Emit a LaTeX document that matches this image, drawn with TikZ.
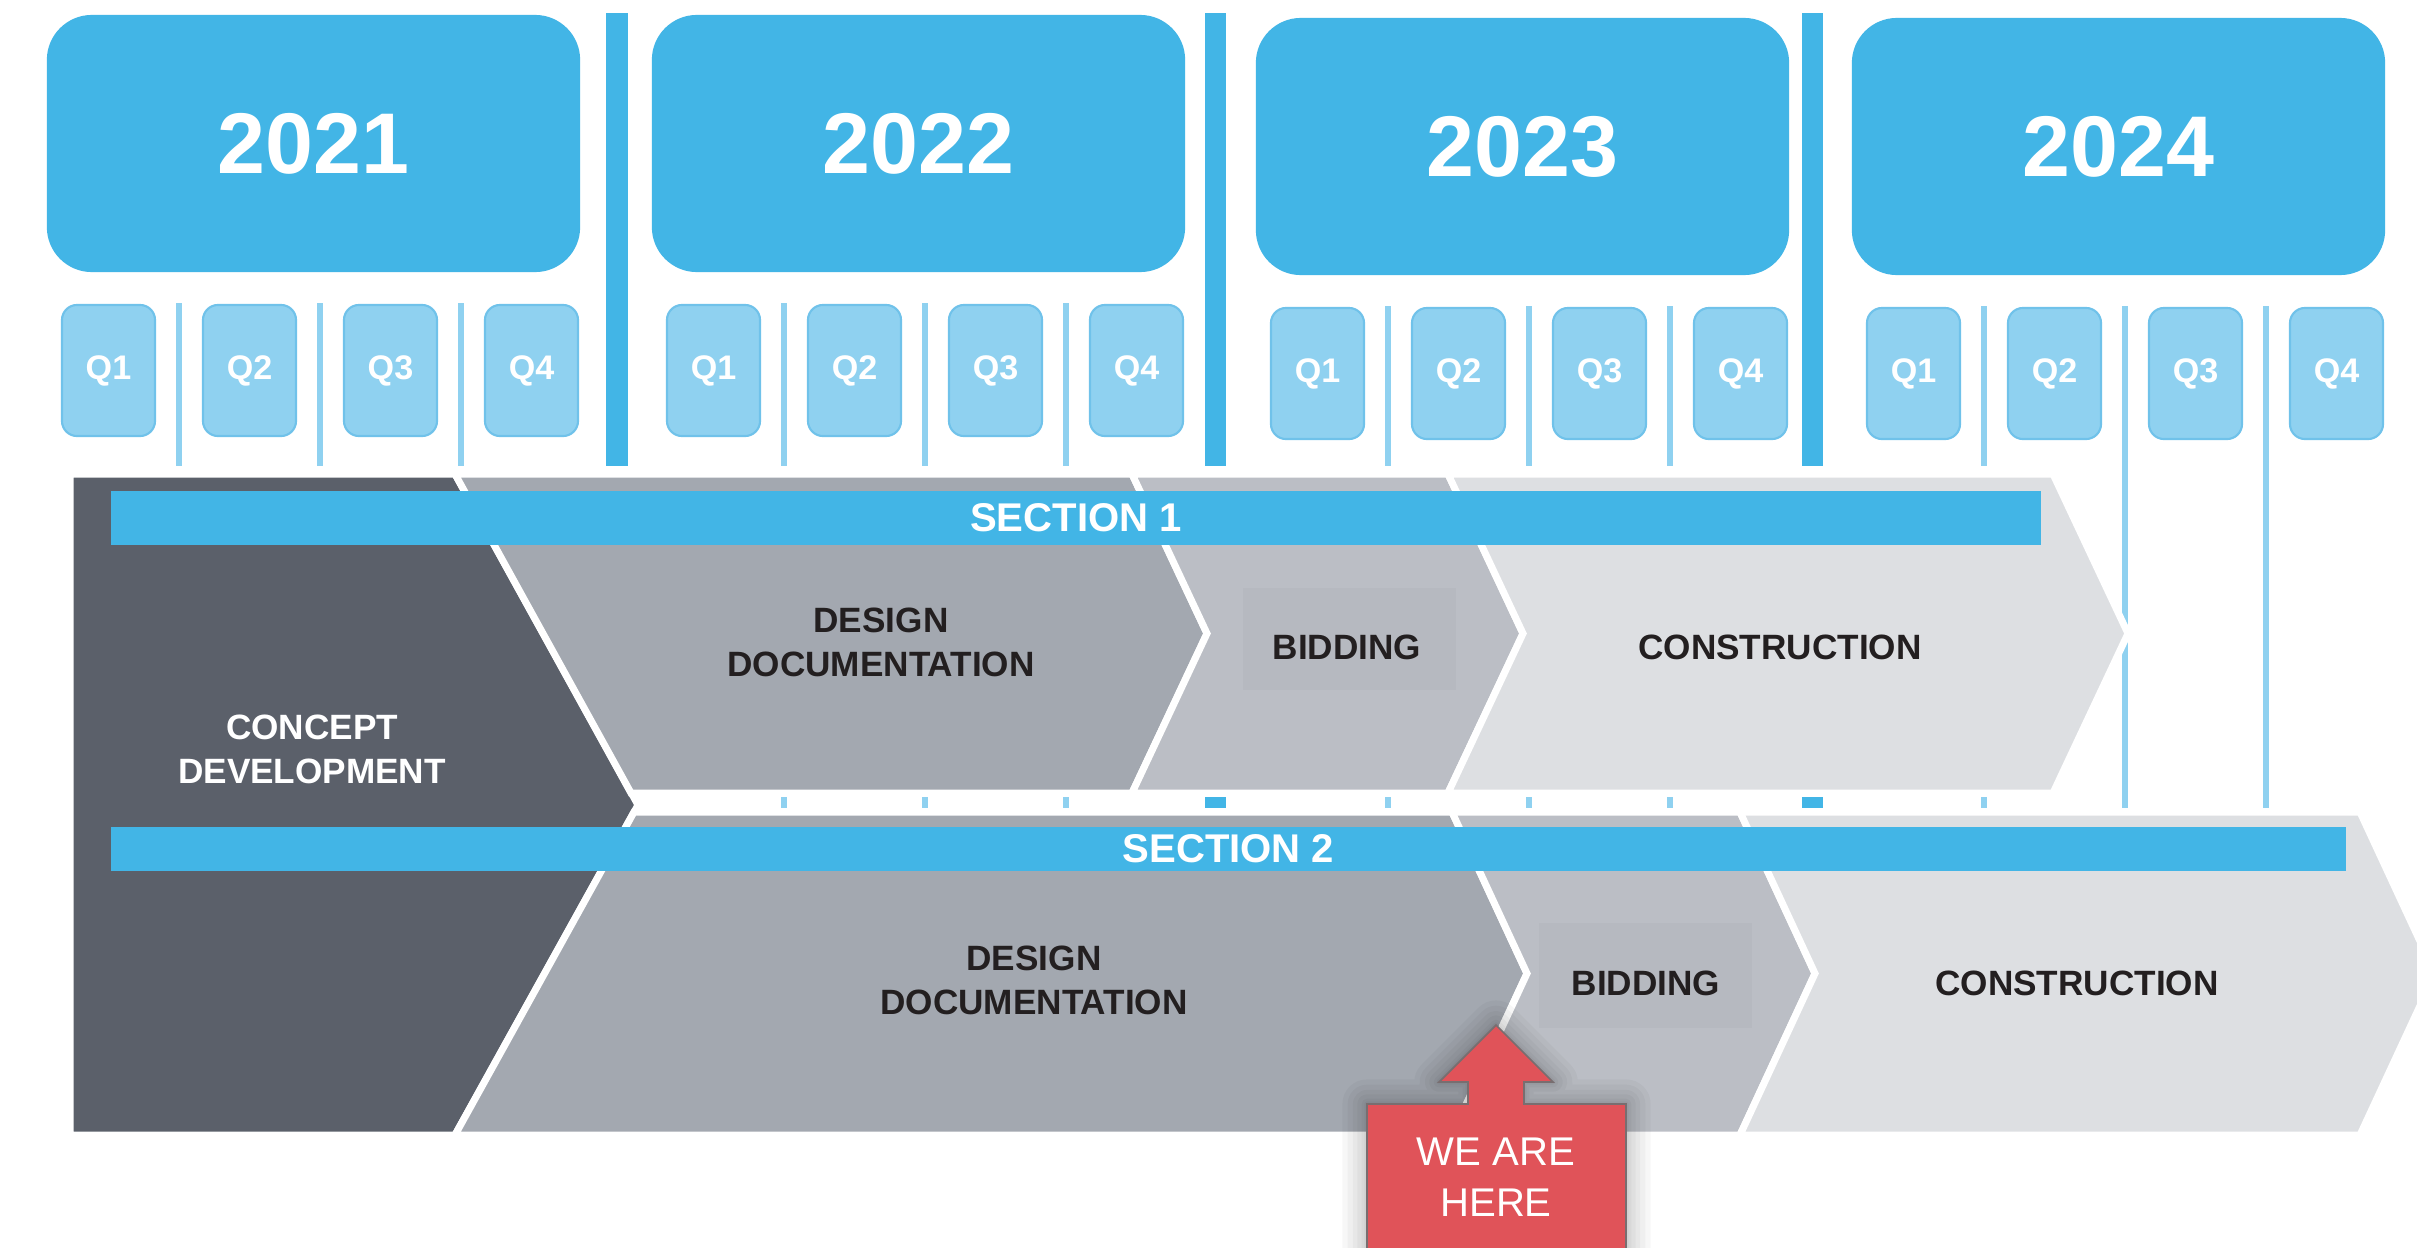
\documentclass[tikz,border=0pt]{standalone}
\usepackage{fontspec}
\setmainfont{Liberation Sans}
\definecolor{yearblue}{RGB}{66,181,230}
\definecolor{qblue}{RGB}{143,209,240}
\definecolor{qedge}{RGB}{112,194,234}
\definecolor{darkgray}{RGB}{91,96,106}
\definecolor{midgray}{RGB}{163,168,176}
\definecolor{bidgray}{RGB}{187,190,197}
\definecolor{bidbox}{RGB}{182,185,192}
\definecolor{congray}{RGB}{221,223,226}
\definecolor{herered}{RGB}{224,83,89}
\definecolor{hereedge}{RGB}{120,110,112}
\definecolor{textdark}{RGB}{35,31,32}
\begin{document}
\begin{tikzpicture}[x=0.01cm, y=-0.01cm,
  yearbox/.style={fill=yearblue, text=white, rounded corners=0.45cm, minimum width=5.33cm, minimum height=2.57cm, font=\fontsize{24.5}{28}\selectfont\bfseries},
  qbox/.style={fill=qblue, draw=qedge, line width=0.6pt, text=white, rounded corners=0.15cm, minimum width=0.93cm, minimum height=1.31cm, inner sep=0pt, font=\fontsize{9.7}{11}\selectfont\bfseries},
  qline/.style={draw=qblue, line width=0.06cm},
  yline/.style={draw=yearblue, line width=0.21cm},
  phase/.style={fill=#1, draw=white, line width=0.07cm},
  secbar/.style={fill=yearblue, text=white, inner sep=0pt, font=\fontsize{11.4}{13}\selectfont\bfseries},
  phasetext/.style={text=textdark, align=center, inner sep=0pt, font=\fontsize{10}{12.5}\selectfont\bfseries},
  halo/.style={preaction={draw=black, draw opacity=0.03, line width=#1, line join=round}},
  heretext/.style={text=white, align=center, inner sep=0pt, font=\fontsize{11.4}{14.5}\selectfont}]
\useasboundingbox (0,0) rectangle (2417,1248);
\fill[white] (0,0) rectangle (2417,1248);

\foreach \yr/\xo/\yo in {2021/47/0,2022/652/0,2023/1256/3,2024/1852/3}{
  \node[yearbox] (y\yr) at ({\xo+266.5},{143.5+\yo}) {\yr};
  \foreach \q in {1,...,4}
    \node[qbox] (q\yr\q) at ({\xo+61.5+141*(\q-1)},{370.5+\yo}) {Q\q};
  \foreach \q in {1,2,3}{
    \draw[qline] ({\xo+132+141*(\q-1)},{303+\yo}) -- ({\xo+132+141*(\q-1)},466);
    \draw[qline] ({\xo+132+141*(\q-1)},797) -- ({\xo+132+141*(\q-1)},808);
  }
}
\draw[qline] (2125,306) -- (2125,808);
\draw[qline] (2266,306) -- (2266,808);
\foreach \x in {617,1215,1812}{
  \draw[yline] (\x,13) -- (\x,466);
  \draw[yline] (\x,797) -- (\x,808);
}

\path[phase=darkgray] (70,474) -- (455,474) -- (638,805) -- (455,1135) -- (70,1135) -- cycle;
\path[phase=midgray] (455,474) -- (1132,474) -- (1207,633.5) -- (1132,793) -- (631,793) -- cycle;
\path[phase=midgray] (634,812) -- (1452,812) -- (1527,973.5) -- (1452,1135) -- (455,1135) -- cycle;
\path[phase=bidgray] (1132,474) -- (1448,474) -- (1523,633.5) -- (1448,793) -- (1132,793) -- (1207,633.5) -- cycle;
\path[phase=bidgray] (1452,812) -- (1740,812) -- (1815,973.5) -- (1740,1135) -- (1452,1135) -- (1527,973.5) -- cycle;
\path[phase=congray] (1448,474) -- (2053,474) -- (2128,633.5) -- (2053,793) -- (1448,793) -- (1523,633.5) -- cycle;
\path[phase=congray] (1740,812) -- (2360,812) -- (2435,973.5) -- (2360,1135) -- (1740,1135) -- (1815,973.5) -- cycle;
\fill[bidbox] (1243,588) rectangle (1456,690);
\fill[bidbox] (1539,923) rectangle (1752,1028);

\node[secbar, minimum width=19.28cm, minimum height=0.54cm] (s1) at (1076,518) {SECTION 1};
\node[secbar, minimum width=22.33cm, minimum height=0.44cm] (s2) at (1228.5,849) {SECTION 2};

\node[phasetext, text=white] (cd) at (312,749) {CONCEPT\\DEVELOPMENT};
\node[phasetext] (dd1) at (881,642) {DESIGN\\DOCUMENTATION};
\node[phasetext] (bd1) at (1347,647) {BIDDING};
\node[phasetext] (cn1) at (1780,647) {CONSTRUCTION};
\node[phasetext] (dd2) at (1034,980) {DESIGN\\DOCUMENTATION};
\node[phasetext] (bd2) at (1646,983) {BIDDING};
\node[phasetext] (cn2) at (2077,983) {CONSTRUCTION};

\filldraw[halo=14pt, halo=11pt, halo=8pt, halo=5.5pt, halo=3pt, halo=1.5pt, fill=herered, draw=hereedge, line width=0.5pt]
  (1496,1025) -- (1553,1082) -- (1524,1082) -- (1524,1104) -- (1626,1104) -- (1626,1262)
  -- (1367,1262) -- (1367,1104) -- (1468,1104) -- (1468,1082) -- (1439,1082) -- cycle;
\node[heretext] (here) at (1496,1177.5) {WE ARE\\HERE};
\end{tikzpicture}
\end{document}
